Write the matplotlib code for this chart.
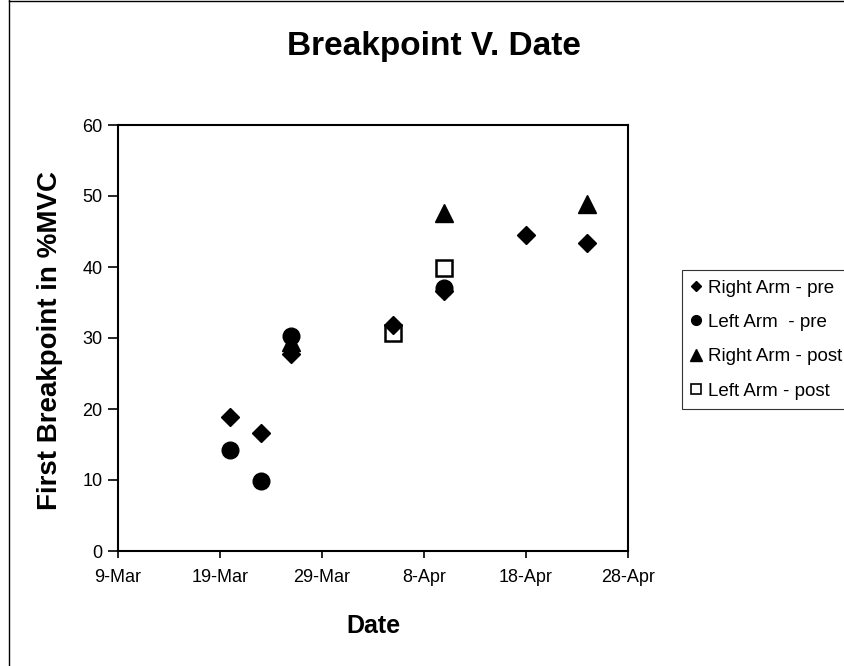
import matplotlib
matplotlib.use("Agg")
import matplotlib.pyplot as plt
import matplotlib.dates as mdates
from matplotlib.lines import Line2D
import datetime as dt

plt.rcParams['font.family'] = ['Liberation Sans', 'DejaVu Sans']

# Data
right_pre_dates = ["2003-03-20", "2003-03-23", "2003-03-26", "2003-04-05", "2003-04-10", "2003-04-18", "2003-04-24"]
right_pre_vals = [18.9, 16.6, 27.7, 31.9, 36.6, 44.5, 43.4]

left_pre_dates = ["2003-03-20", "2003-03-23", "2003-03-26", "2003-04-10"]
left_pre_vals = [14.2, 9.9, 30.3, 37.1]

right_post_dates = ["2003-03-26", "2003-04-10", "2003-04-24"]
right_post_vals = [29.5, 47.6, 48.9]

left_post_dates = ["2003-04-05", "2003-04-10"]
left_post_vals = [30.7, 39.8]

tick_dates = ["2003-03-09", "2003-03-19", "2003-03-29", "2003-04-08", "2003-04-18", "2003-04-28"]
y_ticks = [0, 10, 20, 30, 40, 50, 60]
legend_labels = ['Right Arm - pre', 'Left Arm  - pre', 'Right Arm - post', 'Left Arm - post']


def d(lst):
    return [dt.datetime.strptime(s, "%Y-%m-%d") for s in lst]


W, H = 845, 666
fig = plt.figure(figsize=(W / 100, H / 100), dpi=100)
L, R, T, B = 118, 628, 125, 551
ax = fig.add_axes([L / W, 1 - B / H, (R - L) / W, (B - T) / H])

ax.plot(d(right_pre_dates), right_pre_vals, linestyle='none', marker='D', markersize=9,
        color='black', zorder=3)
ax.plot(d(left_pre_dates), left_pre_vals, linestyle='none', marker='o', markersize=12,
        color='black', zorder=3)
ax.plot(d(right_post_dates), right_post_vals, linestyle='none', marker='^', markersize=13,
        color='black', zorder=3)
ax.plot(d(left_post_dates), left_post_vals, linestyle='none', marker='s', markersize=11,
        markerfacecolor='white', markeredgecolor='black', markeredgewidth=1.8, zorder=2)

tk = d(tick_dates)
ax.set_xlim(tk[0], tk[-1])
ax.set_xticks(tk)
ax.xaxis.set_major_formatter(mdates.DateFormatter('%-d-%b'))
ax.set_ylim(0, 60)
ax.set_yticks(y_ticks)

for s in ax.spines.values():
    s.set_linewidth(1.5)
    s.set_color('black')
ax.tick_params(axis='x', direction='out', length=5, width=1.2, labelsize=13, colors='black', pad=8)
ax.tick_params(axis='y', direction='out', length=7, width=1.2, labelsize=13, colors='black', pad=4)

fig.text(434 / W, 1 - 47 / H, 'Breakpoint V. Date', fontsize=24, fontweight='bold',
         ha='center', va='center')
fig.text(373 / W, 1 - 626 / H, 'Date', fontsize=18, fontweight='bold',
         ha='center', va='center')
fig.text(50 / W, 1 - 340 / H, 'First Breakpoint in %MVC', fontsize=20, fontweight='bold',
         ha='center', va='center', rotation=90)

handles = [
    Line2D([], [], linestyle='none', marker='D', markersize=5.5, color='black'),
    Line2D([], [], linestyle='none', marker='o', markersize=7, color='black'),
    Line2D([], [], linestyle='none', marker='^', markersize=8, color='black'),
    Line2D([], [], linestyle='none', marker='s', markersize=6.5, markerfacecolor='white',
           markeredgecolor='black', markeredgewidth=1.2),
]
leg = fig.legend(handles, legend_labels, loc='upper left', bbox_to_anchor=(682 / W, 1 - 270 / H),
                 frameon=True, fancybox=False, fontsize=13.5, handlelength=0.45,
                 handletextpad=0.45, borderpad=0.5, labelspacing=0.92, borderaxespad=0)
leg.get_frame().set_edgecolor('black')
leg.get_frame().set_linewidth(0.8)

# figure border (left and top)
fig.add_artist(Line2D([9 / W, 9 / W], [0, 1], transform=fig.transFigure, color='black', linewidth=1))
fig.add_artist(Line2D([9 / W, 1], [1 - 1 / H, 1 - 1 / H], transform=fig.transFigure, color='black', linewidth=1))

fig.savefig('out.png', dpi=100)
